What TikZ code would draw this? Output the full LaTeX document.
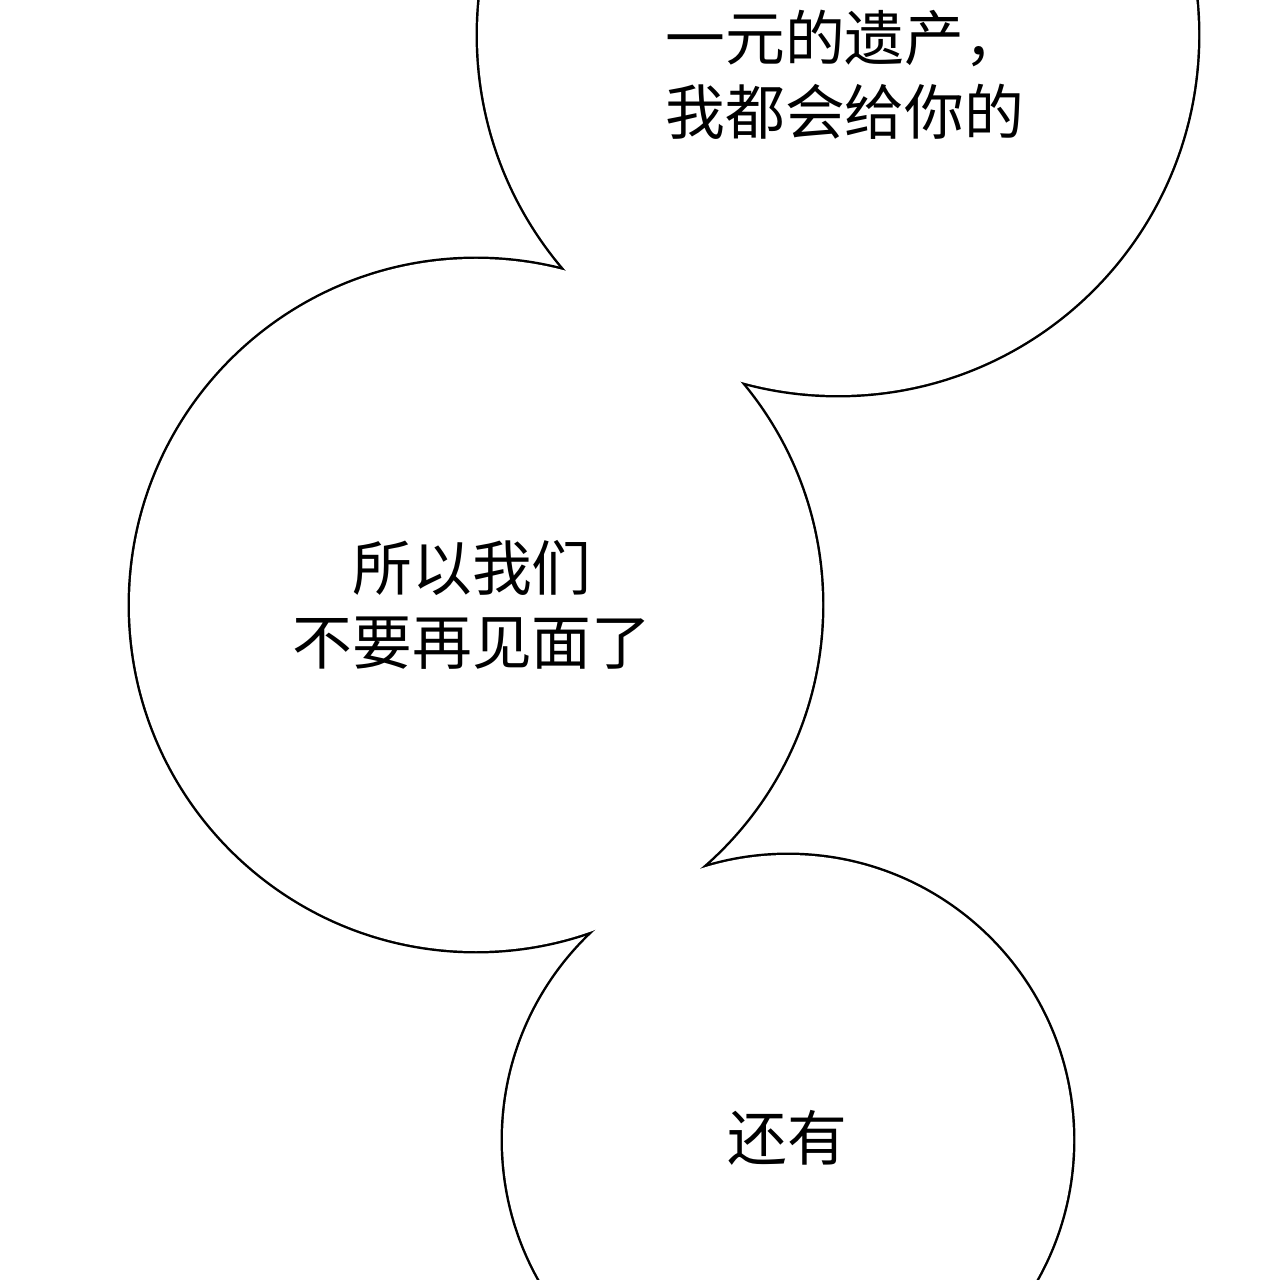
\documentclass[tikz,border=0pt]{standalone}
\usepackage{fontspec}
\newfontfamily\cjk{Noto Sans CJK SC}
\tikzset{
  bubble/.style={draw=black, line width=1.4pt},
  bubblefill/.style={fill=white},
  words/.style={font=\cjk\fontsize{17}{21}\selectfont, text=black, inner sep=0pt}
}
\begin{document}
\begin{tikzpicture}
	\useasboundingbox (0,0) rectangle (12.8,-12.8);
	\clip (0,0) rectangle (12.8,-12.8);
	% outlines first, then white fill to merge bubbles
	\foreach \cx/\cy/\r in {8.38/-0.35/3.60, 4.76/-6.05/3.46, 7.88/-11.40/2.85}
	\draw[bubble] (\cx,\cy) circle (\r);
	\foreach \cx/\cy/\r in {8.38/-0.35/3.60, 4.76/-6.05/3.46, 7.88/-11.40/2.85}
	\fill[bubblefill] (\cx,\cy) circle (\r);
	
	\node[words, anchor=west, align=left] (legacy) at (6.65,-0.75) {一元的遗产，\\我都会给你的};
	\node[words, align=center] (meet) at (4.72,-6.05) {所以我们\\不要再见面了};
	\node[words] (also) at (7.87,-11.38) {还有};
\end{tikzpicture}
\end{document}
